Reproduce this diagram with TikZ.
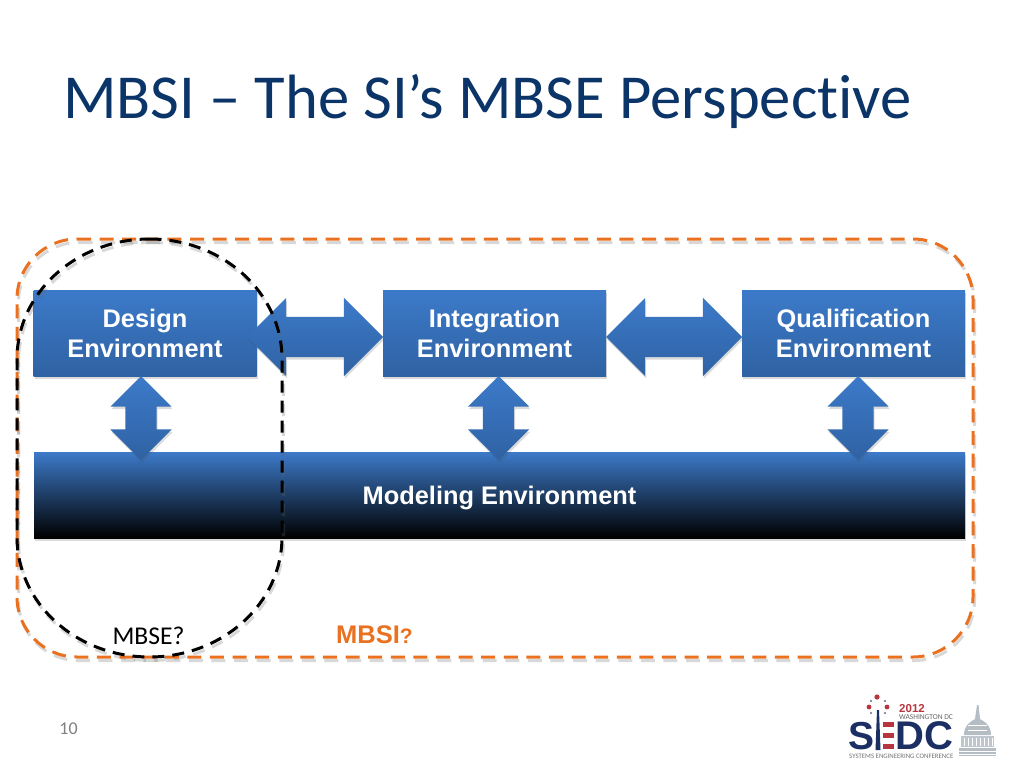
\documentclass[tikz,border=0pt]{standalone}
\usepackage{fontspec}
\setmainfont[Ligatures=NoCommon]{Carlito}
\newfontfamily\arialb{Liberation Sans Bold}
\usetikzlibrary{shapes.arrows,shadows,calc}
\tikzset{
  softshadow/.style={drop shadow={shadow xshift=1pt,shadow yshift=-2.5pt,opacity=.2,fill=black!70}},
  envbox/.style={draw=none,rectangle,inner sep=0pt,minimum width=223pt,minimum height=86pt,
    top color=bluetop,bottom color=bluebot,text=white,align=center,
    font=\arialb\fontsize{25.4}{30}\selectfont,softshadow},
  hlink/.style={double arrow,inner xsep=0pt,inner ysep=20pt,minimum height=136pt,
    double arrow head extend=19pt,double arrow tip angle=90,double arrow head indent=0pt,
    top color=bluetop,bottom color=bluebot,softshadow},
  vlink/.style={double arrow,shape border rotate=90,inner ysep=0pt,inner xsep=15.5pt,minimum height=84pt,
    double arrow head extend=15pt,double arrow tip angle=90,double arrow head indent=0pt,
    top color=bluetop,bottom color=bluebot,softshadow},
  dashshadow/.style={line width=3pt,black!60,opacity=.25},
  orangeline/.style={line width=3pt,draw=mbsiorange,dash pattern=on 14pt off 8.6pt},
  blackline/.style={line width=3pt,draw=black,dash pattern=on 12pt off 8pt},
}
\definecolor{titleblue}{HTML}{0B3468}
\definecolor{bluetop}{HTML}{3C7AC9}
\definecolor{bluebot}{HTML}{2F62A3}
\definecolor{bluemid}{HTML}{2A5C9E}
\definecolor{mbsiorange}{HTML}{EA7120}
\definecolor{logonavy}{HTML}{1B2F63}
\definecolor{logored}{HTML}{B8353F}
\definecolor{domegray}{HTML}{B4BCC4}
\begin{document}
\begin{tikzpicture}[x=1pt,y=-1pt]
\useasboundingbox (0,0) rectangle (1024,768);
\fill[white] (0,0) rectangle (1024,768);
% title
\node[anchor=base west,inner sep=0pt,text=titleblue,font=\fontsize{62.6}{70}\selectfont] (title) at (63,118) {MBSI – The SI’s MBSE Perspective};
% boxes
\node[envbox] (design) at (145,333) {Design\\Environment};
\node[envbox] (integ) at (494.5,333) {Integration\\Environment};
\node[envbox] (qual) at (853.5,333) {Qualification\\Environment};
\node[envbox,minimum width=931pt,top color=bluetop,middle color=bluemid,bottom color=black,text depth=-1.5pt] (model) at (499.5,495) {Modeling Environment};
% links
\node[hlink] (dilink) at (315,337) {};
\node[hlink] (iqlink) at (674,337) {};
\node[vlink] (dmlink) at (141,418) {};
\node[vlink] (imlink) at (498.5,418) {};
\node[vlink] (qmlink) at (858,418) {};
% outlines
\def\orangepath{(77,239) -- (913,239) .. controls (946,239) and (973,266) .. (973,299) -- (973,597) .. controls (973,630) and (946,657) .. (913,657) -- (77,657) .. controls (44,657) and (17,630) .. (17,597) -- (17,299) .. controls (17,266) and (44,239) .. (77,239) -- cycle}
\def\blackpath{(149.5,239) .. controls (222.7,239) and (282,292.7) .. (282,359) -- (282,537) .. controls (282,603.3) and (222.7,657) .. (149.5,657) .. controls (76.3,657) and (17,603.3) .. (17,537) -- (17,359) .. controls (17,292.7) and (76.3,239) .. (149.5,239) -- cycle}
\begin{scope}[shift={(1.5,3.5)}]
\draw[dashshadow,dash pattern=on 14pt off 8.6pt] \orangepath;
\draw[dashshadow,dash pattern=on 12pt off 8pt] \blackpath;
\end{scope}
\draw[orangeline] \orangepath;
\draw[blackline] \blackpath;
% labels
\node[inner sep=0pt,font=\fontsize{25.6}{28}\selectfont,text=black] (mbse) at (148.5,636) {MBSE?};
\node[inner sep=0pt,anchor=base west,text=mbsiorange] (mbsi) at (336,643) {\arialb\fontsize{25.5}{28}\selectfont MBSI\fontsize{21}{28}\selectfont ?};
\node[inner sep=0pt,font=\fontsize{18}{20}\selectfont,text=black!50] (pagenum) at (68.5,729) {10};
% logo
\fill[logonavy] (877,710) -- (879,710) -- (880.5,750) -- (875.5,750) -- cycle;
\foreach \yy in {722,733,744} \fill[logored] (883,\yy) rectangle (894,\yy+5);
\foreach \xx/\yy/\rr in {877/697/2.6,869/707/2.4,887/707/2.4}\fill[logored] (\xx,\yy) circle[radius=\rr];
\foreach \xx/\yy in {871/701,885/701,871/713,885/713}\fill[logonavy!70] (\xx,\yy) circle[radius=1.2];
\node[inner sep=0pt,anchor=base west,text=logonavy,font=\arialb\fontsize{39}{40}\selectfont] (logoS) at (848,749.5) {S};
\node[inner sep=0pt,anchor=base west,text=logonavy,font=\arialb\fontsize{40}{40}\selectfont] (logoDC) at (895,749.5) {DC};
\node[inner sep=0pt,anchor=base west,text=logored,font=\arialb\fontsize{11.5}{12}\selectfont] (logoyear) at (899,712) {2012};
\node[inner sep=0pt,anchor=base west,text=black!60,font=\fontsize{7.5}{8}\selectfont] (logoplace) at (899,719) {WASHINGTON DC};
\node[inner sep=0pt,anchor=base west,text=black!55,font=\fontsize{6.8}{7}\selectfont] (logoconf) at (849,758) {SYSTEMS ENGINEERING CONFERENCE};
% capitol
\fill[domegray] (977,705) -- (978.5,705) -- (980,719) -- (975,719) -- cycle;
\fill[domegray] (964,735) .. controls (964,726) and (970,721) .. (977.5,718) .. controls (985,721) and (991,726) .. (991,735) -- cycle;
\fill[domegray!85] (961,736) rectangle (994,747);
\fill[domegray] (959,748) rectangle (996,756);
\foreach \xx in {964,968,972,976,980,984,988,992}\draw[white,line width=.6pt] (\xx,738) -- (\xx,746);
\foreach \yy in {725,730}\draw[white,line width=.5pt] (968,\yy) -- (987,\yy);
\foreach \yy in {751,754}\draw[white,line width=.5pt] (959,\yy) -- (996,\yy);
\end{tikzpicture}
\end{document}
